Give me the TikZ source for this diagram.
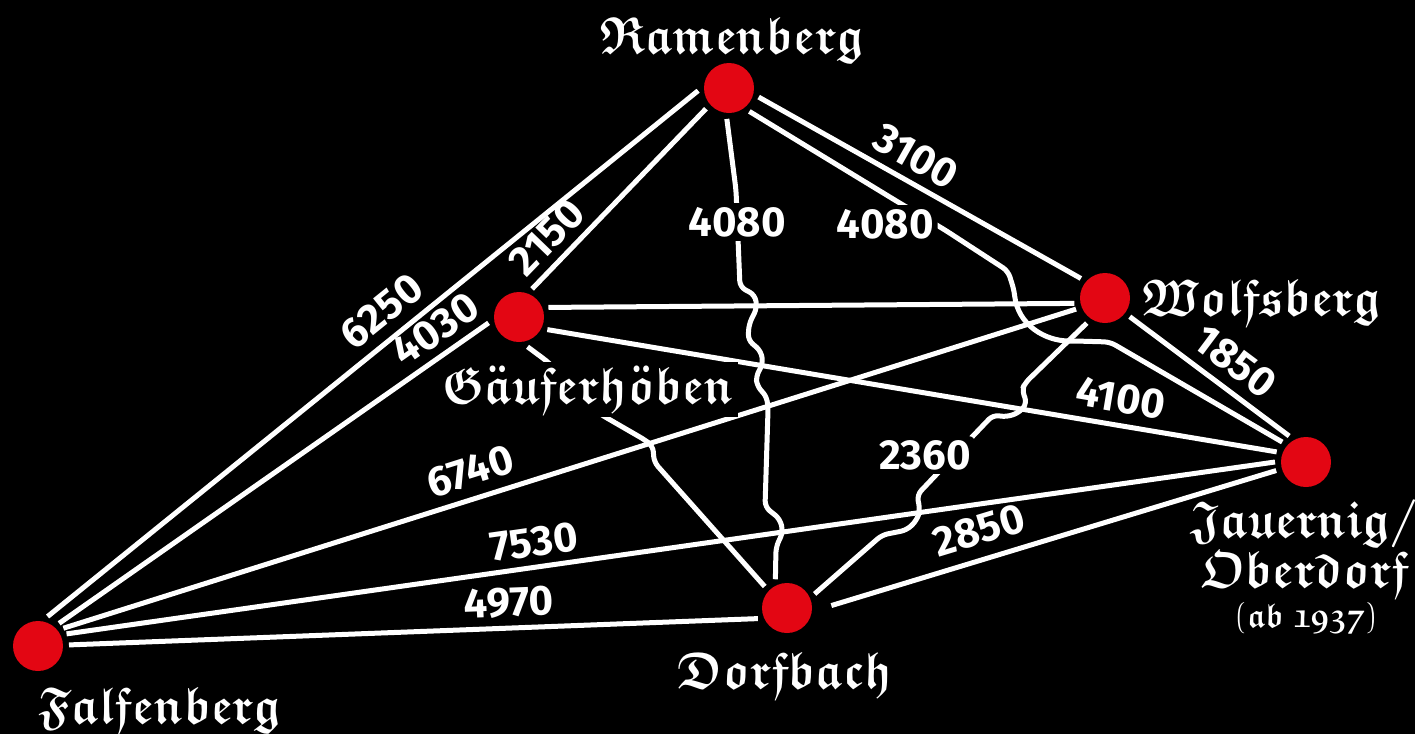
\documentclass[tikz,border=0pt]{standalone}
\usepackage{amsmath}
\usepackage{amssymb}
\usepackage{graphicx}
\usepackage{fontspec}
\usepackage{xcolor}
\usepackage{tikz}
\usetikzlibrary{positioning}

\newfontfamily\numfont{Fira Sans}
\newcommand\frakfont{\usefont{U}{euf}{b}{n}}
\newcommand\frk[1]{\scalebox{0.88}[1]{#1}}
\newcommand\uml[1]{{\boldmath$\ddot{\mbox{#1}}$}}
\definecolor{dotred}{RGB}{227,6,19}

\begin{document}
\begin{tikzpicture}[
  x=0.5pt, y=-0.5pt,
  stop/.style={circle, fill=dotred, minimum size=25pt, inner sep=0pt, outer sep=3pt},
  road/.style={draw=white, line width=2.5pt, rounded corners=3pt},
  town/.style={text=white, font=\fontsize{26}{30}\selectfont\frakfont, inner sep=0pt, anchor=base},
  dist/.style={text=white, font=\numfont\bfseries\fontsize{21}{24}\selectfont, inner sep=1pt},
  cut/.style={dist, fill=black, inner sep=2pt},
]
  \useasboundingbox (0,0) rectangle (1415,734);
  \fill[black] (0,0) rectangle (1415,734);

  % stations
  \node[stop] (fb) at (38,646) {};
  \node[stop] (rb) at (729,88) {};
  \node[stop] (gh) at (519,317) {};
  \node[stop] (wb) at (1105,298) {};
  \node[stop] (jo) at (1306,462) {};
  \node[stop] (db) at (787,608) {};

  % straight connections
  \draw[road] (fb.72) -- node[dist, sloped, above=4pt, pos=0.54] {6250} (rb.185);
  \draw[road] (fb.47) -- node[dist, sloped, above=3pt, pos=0.91] {4030} (gh.191);
  \draw[road] (gh.65) -- node[dist, sloped, above=3pt, pos=0.19] {2150} (rb.222);
  \draw[road] (rb.343) -- node[dist, sloped, above=3pt, pos=0.45] {3100} (wb.141);
  \draw[road] (wb.323) -- node[dist, sloped, above=4pt, pos=0.56] {1850} (jo.123);
  \draw[road] (gh.18) -- (wb.190);
  \draw[road] (gh.336) -- node[dist, sloped, above=4pt, pos=0.78] {4100} (jo.161);
  \draw[road] (fb.35) -- node[dist, sloped, above=4pt, pos=0.41] {6740} (wb.201);
  \draw[road] (fb.23) -- node[dist, sloped, above=3pt, pos=0.39] {7530} (jo.180);
  \draw[road] (fb.2) -- node[dist, sloped, above=3pt, pos=0.64] {4970} (db.200);
  \draw[road, shorten <=7pt] (db.357) -- node[dist, sloped, above=5pt, pos=0.37] {2850} (jo.196);

  % connections with jogs at crossings
  \draw[road] (rb.266) -- (736,190) -- node[cut, pos=0.33] {4080} (740,287)
    -- (755,295) -- (757,308) -- (749,324) -- (748,340) -- (761,351) -- (763,364)
    -- (756,376) -- (757,386) -- (767,397) -- (768,410) -- (765,507) -- (780,519)
    -- (783,532) -- (776,547) -- (db.112);
  \draw[road] (rb.311) -- (898,202) node[cut] at (885,224) {4080} -- (945,230)
    -- (1008,271) -- (1014,290) .. controls (1018,325) and (1045,341) .. (1075,341)
    -- (1110,342) -- (jo.140);
  \draw[road] (gh.286) -- (548,362) -- (600,414) -- (645,440) -- (653,446) -- (654,462) -- (db.136);
  \draw[road] (wb.234) -- (1025,383) -- (1022,390) -- (1027,403) -- (1020,412)
    -- (1007,417) -- (993,415) -- (972,437) node[cut] at (925,455) {2360} -- (935,476)
    -- (917,495) -- (920,510) -- (917,520) -- (907,530) -- (882,535) -- (db.27);

  % names
  \node[town] (rb-name) at (732,53) {\frk{Ramenberg}};
  \node[town, fill=black, inner sep=2pt] (gh-name) at (588,403) {\frk{G\uml{a}uferh\uml{o}ben}};
  \node[town] (wb-name) at (1262,315) {\frk{Wolfsberg}};
  \node[town] (jo-name) at (1304,537) {\frk{Jauernig/}};
  \node[town] (jo-name2) at (1305,587) {\frk{Oberdorf}};
  \node[town, font=\fontsize{17}{20}\selectfont\frakfont] (jo-note) at (1306,627) {\frk{(ab 1937)}};
  \node[town] (db-name) at (785,688) {\frk{Dorfbach}};
  \node[town] (fb-name) at (160,723) {\frk{Falfenberg}};
\end{tikzpicture}
\end{document}
